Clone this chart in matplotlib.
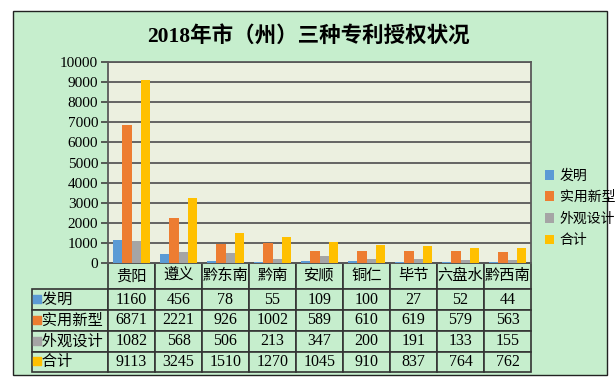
import numpy as np
import matplotlib.pyplot as plt
from matplotlib.patches import Rectangle, Patch

plt.rcParams['font.family'] = ['Liberation Serif', 'Noto Sans CJK SC', 'DejaVu Sans']

cities = ['贵阳', '遵义', '黔东南', '黔南', '安顺', '铜仁', '毕节', '六盘水', '黔西南']
series = ['发明', '实用新型', '外观设计', '合计']
invention = [1160, 456, 78, 55, 109, 100, 27, 52, 44]
utility = [6871, 2221, 926, 1002, 589, 610, 619, 579, 563]
design = [1082, 568, 506, 213, 347, 200, 191, 133, 155]
total = [9113, 3245, 1510, 1270, 1045, 910, 837, 764, 762]
colors = ['#5B9BD5', '#ED7D31', '#A5A5A5', '#FFC000']

W, H = 616, 385
green = '#C6EECD'
fig = plt.figure(figsize=(W / 100, H / 100), dpi=100)
fig.patch.set_facecolor('white')
fig.patches.append(Rectangle((13 / W, 1 - 375 / H), 594 / W, 364 / H, transform=fig.transFigure,
                             facecolor=green, edgecolor='#222222', linewidth=1.0, zorder=-1))

ax = fig.add_axes([108 / W, 1 - 263 / H, 423 / W, 201 / H])
ax.set_facecolor('#ECF0E0')

data = [invention, utility, design, total]
x = np.arange(len(cities))
bw = 0.2
for i, (vals, c) in enumerate(zip(data, colors)):
    ax.bar(x + (i - 1.5) * bw, vals, bw, color=c, zorder=3)

ax.set_xlim(-0.5, len(cities) - 0.5)
ax.set_ylim(0, 10000)
ax.set_yticks(range(0, 10001, 1000))
ax.tick_params(axis='y', length=5, width=1.2, color='#404040', pad=2)
for lab in ax.get_yticklabels():
    lab.set_fontfamily('Liberation Serif')
    lab.set_fontsize(11)
ax.set_xticks([])
ax.grid(axis='y', color='#595959', linewidth=1.3, zorder=0)
for s in ax.spines.values():
    s.set_color('#595959')
    s.set_linewidth(1.3)

fig.text(0.5, 1 - 36 / H, '2018年市（州）三种专利授权状况', ha='center', va='center',
         fontsize=15.5, fontweight='bold')

# data table under the plot
cell_text = [[''] + cities]
for name, vals in zip(series, data):
    cell_text.append(['  ' + name] + [str(v) for v in vals])
tab_left = (32 - 108) / 423
tab_bottom = (263 - 372) / 201
tbl = ax.table(cellText=cell_text, cellLoc='center',
               bbox=[tab_left, tab_bottom, 1 - tab_left, -tab_bottom])
tbl.auto_set_font_size(False)
heights = [26, 21, 21, 20.5, 20.5]
for (r, c), cell in tbl.get_celld().items():
    cell.set_facecolor(green)
    cell.set_edgecolor('#333333')
    cell.set_linewidth(1.2)
    cell.set_width(76 if c == 0 else 47)
    cell.set_height(heights[r])
    cell.get_text().set_fontsize(11.5 if (r > 0 and c > 0) else 11)
    if c == 0:
        cell.get_text().set_ha('left')
        cell.PAD = 0.02
    if r == 0 and c == 0:
        cell.set_edgecolor('none')
        cell.set_facecolor('none')

# small colour keys in the row labels
ys = [299, 320, 340.5, 361]
for y, c in zip(ys, colors):
    ax.scatter([(37 - 108) / 423], [(263 - y) / 201], marker='s', s=28, color=c,
               transform=ax.transAxes, clip_on=False, zorder=5)

handles = [Patch(facecolor=c, edgecolor='none') for c in colors]
leg = fig.legend(handles, series, loc='center left', bbox_to_anchor=(532 / W, 1 - 208 / H),
                 frameon=False, handlelength=0.7, handleheight=0.7,
                 handletextpad=0.4, labelspacing=0.55, prop={'family': 'Noto Sans CJK SC', 'size': 10})

fig.savefig('out.png', dpi=100)
